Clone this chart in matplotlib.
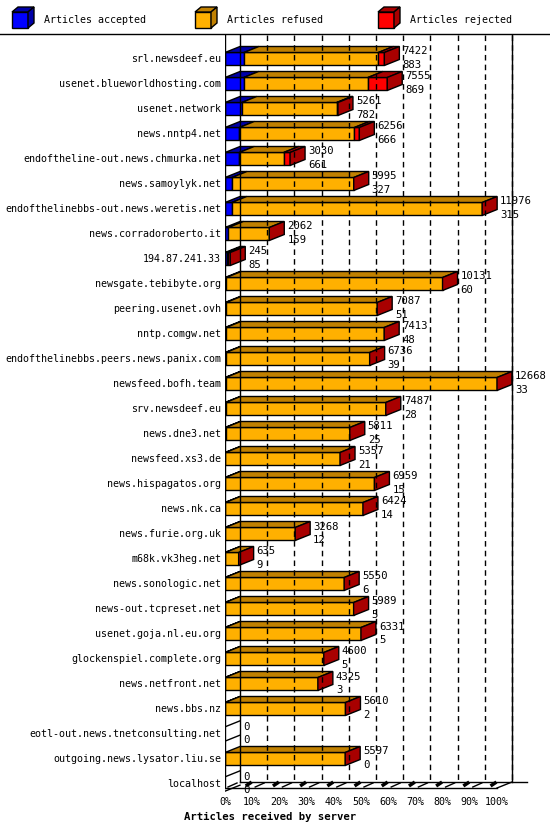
import matplotlib
matplotlib.use("Agg")
import matplotlib.pyplot as plt
from matplotlib.patches import Polygon, Rectangle

servers = ["srl.newsdeef.eu","usenet.blueworldhosting.com","usenet.network","news.nntp4.net",
 "endoftheline-out.news.chmurka.net","news.samoylyk.net","endofthelinebbs-out.news.weretis.net",
 "news.corradoroberto.it","194.87.241.33","newsgate.tebibyte.org","peering.usenet.ovh",
 "nntp.comgw.net","endofthelinebbs.peers.news.panix.com","newsfeed.bofh.team","srv.newsdeef.eu",
 "news.dne3.net","newsfeed.xs3.de","news.hispagatos.org","news.nk.ca","news.furie.org.uk",
 "m68k.vk3heg.net","news.sonologic.net","news-out.tcpreset.net","usenet.goja.nl.eu.org",
 "glockenspiel.complete.org","news.netfront.net","news.bbs.nz","eotl-out.news.tnetconsulting.net",
 "outgoing.news.lysator.liu.se","localhost"]
offered = [7422,7555,5261,6256,3030,5995,11976,2062,245,10131,7087,7413,6736,12668,7487,
 5811,5357,6959,6424,3268,635,5550,5989,6331,4600,4325,5610,0,5597,0]
accepted = [883,869,782,666,661,327,315,159,85,60,51,48,39,33,28,25,21,15,14,12,9,6,5,5,5,3,2,0,0,0]
rejected = [280,900,60,230,300,0,0,0,100,0,0,0,0,0,0,0,0,0,0,0,0,0,0,0,0,0,0,0,0,0]
ticks = ["0%","10%","20%","30%","40%","50%","60%","70%","80%","90%","100%"]
legend = ["Articles accepted","Articles refused","Articles rejected"]

W, H = 550, 830
fig = plt.figure(figsize=(W/100, H/100), dpi=100)
L, R, T, B = 225, 545, 35, 800
ax = fig.add_axes([L/W, 1-B/H, (R-L)/W, (B-T)/H])
ax.axis("off")
vmax = max(offered)
pxs = vmax / 272.0
ax.set_xlim(0, (R-L)*pxs)
rowpx = 25.0
ylo = -(59-T)/rowpx
ax.set_ylim(ylo + (B-T)/rowpx, ylo)
dx = 15*pxs; dy = 6/rowpx
hh = 6.5/rowpx
mono = "DejaVu Sans Mono"
fs = 7.2

n = len(servers)
floor = ylo + (788-T)/rowpx
top = ylo
ax.plot([0,0],[top,floor],color="black",lw=1)
ax.plot([dx,dx],[top,floor-dy],color="black",lw=1)
ax.plot([vmax+dx]*2,[top,floor-dy],color="black",lw=1)
ax.plot([0,vmax],[floor,floor],color="black",lw=1)
ax.plot([dx,vmax+2*dx],[floor-dy,floor-dy],color="black",lw=1)
ax.plot([vmax,vmax+dx],[floor,floor-dy],color="black",lw=1)
for i in range(1,11):
    x = vmax*i/10
    ax.plot([x+dx]*2,[top,floor-dy],color="black",lw=1,ls=(0,(4,3)))
for i in range(0,10):
    x = vmax*i/10
    ax.plot([x+3*pxs, x+dx-3*pxs],[floor-0.04, floor-dy+0.04],color="black",lw=1)
    ax.plot([x+vmax/10-5*pxs, x+vmax/10-2*pxs],[floor-0.12, floor-0.2],color="black",lw=2.5)

cols = [("#0000ff","#0000a8"),("#ffb000","#c08000"),("#ff0000","#a80000")]
for i in range(n):
    y = i
    segs = [accepted[i], offered[i]-accepted[i]-rejected[i], rejected[i]]
    if offered[i] == 0:
        for yy in (y-hh*1.1, y+hh*1.1):
            ax.plot([0,dx],[yy,yy-dy],color="black",lw=1)
        xe = 0
    else:
        x0 = 0
        for v,(c,ct) in zip(segs,cols):
            if v <= 0: continue
            ax.add_patch(Rectangle((x0,y-hh),v,2*hh,fc=c,ec="black",lw=1))
            ax.add_patch(Polygon([(x0,y-hh),(x0+v,y-hh),(x0+v+dx,y-hh-dy),(x0+dx,y-hh-dy)],
                                 closed=True,fc=ct,ec="black",lw=1))
            x0 += v
        ax.add_patch(Polygon([(x0,y-hh),(x0+dx,y-hh-dy),(x0+dx,y+hh-dy),(x0,y+hh)],
                             closed=True,fc="#a80000",ec="black",lw=1))
        xe = x0
    ax.text(xe+dx+3*pxs, y-0.3, str(offered[i]), fontsize=fs+0.5, family=mono, va="center", ha="left")
    ax.text(xe+dx+3*pxs, y+0.25, str(accepted[i]), fontsize=fs+0.5, family=mono, va="center", ha="left")
    fig.text((L-4)/W, 1-(59+i*rowpx)/H, servers[i], fontsize=fs, family=mono, ha="right", va="center")

for i,t in enumerate(ticks):
    fig.text((L+27.2*i)/W, 1-802/H, t, fontsize=fs, family=mono, ha="center", va="center")
fig.text(270/W, 1-817/H, "Articles received by server", fontsize=fs+0.5, family=mono,
         weight="bold", ha="center", va="center")

fig.add_artist(plt.Line2D([0,1],[1-34/H]*2, color="black", lw=1))
for k,(lx,lab) in enumerate(zip([12,195,378],legend)):
    c, ct = cols[k]
    x0, y0, s = lx, 12, 16
    fig.add_artist(Rectangle((x0/W,1-(y0+s)/H), s/W, s/H, fc=c, ec="black", lw=1))
    fig.add_artist(Polygon([(x0/W,1-y0/H),((x0+6)/W,1-(y0-5)/H),((x0+s+6)/W,1-(y0-5)/H),((x0+s)/W,1-y0/H)],
                           closed=True, fc=ct, ec="black", lw=1))
    fig.add_artist(Polygon([((x0+s)/W,1-y0/H),((x0+s+6)/W,1-(y0-5)/H),((x0+s+6)/W,1-(y0+s-5)/H),((x0+s)/W,1-(y0+s)/H)],
                           closed=True, fc=ct, ec="black", lw=1))
    fig.text((x0+32)/W, 1-20/H, lab, fontsize=fs, family=mono, va="center")

fig.savefig("out.png", dpi=100, facecolor="white")
